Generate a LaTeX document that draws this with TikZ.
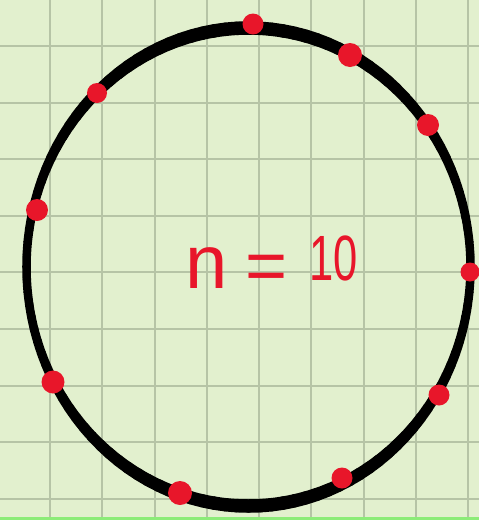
\documentclass[tikz,border=0pt]{standalone}
\usepackage{fontspec}
\setmainfont{Liberation Sans}
\definecolor{bg}{RGB}{226,240,206}
\definecolor{gridc}{RGB}{182,196,166}
\definecolor{dotred}{RGB}{232,22,42}
\definecolor{stripe}{RGB}{140,236,120}
\tikzset{
  gridline/.style={gridc, line width=2pt},
  ringseg/.style={black, line cap=round},
  reddot/.style={fill=dotred},
  handtext/.style={text=dotred, inner sep=0pt, font=\fontsize{62}{62}\selectfont}
}
\begin{document}
\begin{tikzpicture}[x=1pt,y=-1pt]
\fill[bg] (0,0) rectangle (479,520);
\useasboundingbox (0,0) rectangle (479,520);
\foreach \i in {0,...,8} {
  \draw[gridline] ({50+52.25*\i},0) -- ({50+52.25*\i},520);
  \draw[gridline] (0,{46+56.6*\i}) -- (479,{46+56.6*\i});
}
\fill[stripe] (0,517) rectangle (479,520);
\coordinate (c) at (248.5,267);
\foreach \a in {0,3,...,357} {
  \pgfmathsetmacro{\w}{8.5+5*(sin(\a))^2}
  \draw[ringseg, line width=\w pt] (c) ++(\a:222pt and 239pt) arc[start angle=\a, end angle=\a+3, x radius=222pt, y radius=239pt];
}
\fill[reddot] (253,24) circle[radius=10.5pt];
\fill[reddot] (350,55) circle[radius=12pt];
\fill[reddot] (428,125) circle[radius=11pt];
\fill[reddot] (470,272) circle[radius=9.5pt];
\fill[reddot] (439,395) circle[radius=10.5pt];
\fill[reddot] (342,478) circle[radius=10.5pt];
\fill[reddot] (180,493) circle[radius=12pt];
\fill[reddot] (53,382) circle[radius=11.5pt];
\fill[reddot] (37,210) circle[radius=11pt];
\fill[reddot] (97,93) circle[radius=10pt];
\node[handtext, font=\fontsize{76}{76}\selectfont] (n) at (207,268) {n};
\node[handtext, font=\fontsize{72}{72}\selectfont] (eq) at (267,273) {=};
\node[handtext, font=\fontsize{64}{64}\selectfont, xscale=0.68] (ten) at (334,258) {10};
\end{tikzpicture}
\end{document}
